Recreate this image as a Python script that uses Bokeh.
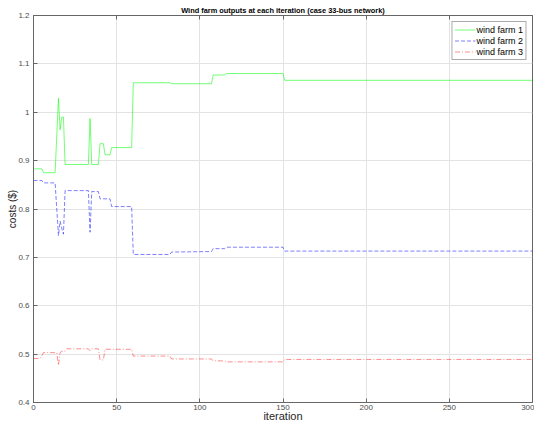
from bokeh.plotting import figure
from bokeh.models import Range1d, LinearAxis, FixedTicker, NumeralTickFormatter, Legend, LegendItem, CustomJSTickFormatter
from bokeh.embed import file_html
from bokeh.resources import INLINE

# ---- data (iteration, value breakpoints) ----
wf1_iter = [0, 5, 6, 13, 15, 16, 17, 18, 19, 33, 34, 35, 39, 40, 42, 43, 46, 47, 59, 60, 82, 83, 107, 108, 115, 116, 150, 151, 300]
wf1_val = [0.883, 0.883, 0.875, 0.875, 1.029, 0.964, 0.990, 0.990, 0.892, 0.892, 0.987, 0.892, 0.892, 0.935, 0.935, 0.912, 0.912,
           0.927, 0.927, 1.061, 1.061, 1.059, 1.059, 1.077, 1.077, 1.080, 1.080, 1.066, 1.066]

wf2_iter = [0, 5, 6, 13, 15, 16, 17, 18, 19, 33, 34, 35, 39, 40, 46, 47, 59, 60, 82, 83, 107, 108, 115, 116, 150, 151, 300]
wf2_val = [0.859, 0.859, 0.854, 0.854, 0.745, 0.775, 0.760, 0.748, 0.838, 0.838, 0.752, 0.836, 0.836, 0.821, 0.821, 0.805, 0.805,
           0.706, 0.706, 0.711, 0.712, 0.718, 0.718, 0.721, 0.721, 0.713, 0.713]

wf3_iter = [0, 4, 6, 14, 15, 16, 17, 19, 20, 33, 34, 35, 39, 40, 42, 43, 59, 60, 82, 83, 107, 108, 115, 116, 150, 151, 300]
wf3_val = [0.491, 0.491, 0.503, 0.503, 0.477, 0.503, 0.506, 0.506, 0.511, 0.511, 0.507, 0.511, 0.511, 0.488, 0.488, 0.510, 0.510,
           0.496, 0.496, 0.490, 0.490, 0.486, 0.486, 0.484, 0.484, 0.489, 0.489]

series_labels = ["wind farm 1", "wind farm 2", "wind farm 3"]
x_ticks = [0, 50, 100, 150, 200, 250, 300]
y_ticks = [0.4, 0.5, 0.6, 0.7, 0.8, 0.9, 1.0, 1.1, 1.2]

FONT = "Liberation Sans"
AX = "#666666"

p = figure(width=534, height=424, output_backend="svg", toolbar_location=None,
           x_range=Range1d(0, 300), y_range=Range1d(0.4, 1.2),
           min_border_left=33, min_border_right=2, min_border_top=15, min_border_bottom=18,
           background_fill_color="white", border_fill_color="white")

p.title.text = "Wind farm outputs at each iteration (case 33-bus network)"
p.title.align = "center"
p.title.text_font = FONT
p.title.text_font_size = "7.4px"
p.title.text_font_style = "bold"
p.title.text_color = "#000000"
p.title.standoff = 2
p.title.offset = 0

p.outline_line_color = AX
p.outline_line_width = 1

for ax in (p.xaxis[0], p.yaxis[0]):
    ax.major_tick_in = 4
    ax.major_tick_out = 0
    ax.minor_tick_in = 0
    ax.minor_tick_out = 0
    ax.axis_line_color = AX
    ax.major_tick_line_color = AX
    ax.major_label_text_font = FONT
    ax.major_label_text_font_size = "8px"
    ax.major_label_text_color = "#4d4d4d"
    ax.axis_label_text_font = FONT
    ax.axis_label_text_font_style = "normal"
    ax.axis_label_text_color = "#262626"

p.xaxis[0].ticker = FixedTicker(ticks=x_ticks)
p.yaxis[0].ticker = FixedTicker(ticks=y_ticks)
p.yaxis[0].formatter = NumeralTickFormatter(format="0.[0]")
p.xaxis[0].axis_label = "iteration"
p.xaxis[0].axis_label_text_font_size = "11px"
p.xaxis[0].major_label_standoff = 2
p.xaxis[0].axis_label_standoff = -3
p.yaxis[0].axis_label = "costs ($)"
p.yaxis[0].axis_label_text_font_size = "10px"
p.yaxis[0].major_label_standoff = 4
p.yaxis[0].axis_label_standoff = -3

# mirrored axis (ticks only) on top
blank = CustomJSTickFormatter(code="return ''")
top = LinearAxis(ticker=FixedTicker(ticks=x_ticks), formatter=blank, major_label_text_font_size="1px",
                 major_label_standoff=0, major_tick_in=4, major_tick_out=0,
                 minor_tick_in=0, minor_tick_out=0, axis_line_color=AX, major_tick_line_color=AX)
p.add_layout(top, "above")

p.xgrid.ticker = FixedTicker(ticks=x_ticks)
p.ygrid.ticker = FixedTicker(ticks=y_ticks)
p.xgrid.grid_line_color = "#e3e3e3"
p.ygrid.grid_line_color = "#e3e3e3"

r1 = p.line(wf1_iter, wf1_val, line_color="#00ff00", line_alpha=0.55, line_width=1)
r2 = p.line(wf2_iter, wf2_val, line_color="#0000ff", line_alpha=0.5, line_width=1, line_dash="4 2")
r3 = p.line(wf3_iter, wf3_val, line_color="#ff0000", line_alpha=0.45, line_width=1, line_dash="5 2 1 2")

legend = Legend(items=[LegendItem(label=series_labels[0], renderers=[r1]),
                       LegendItem(label=series_labels[1], renderers=[r2]),
                       LegendItem(label=series_labels[2], renderers=[r3])],
                location="top_right", margin=6, padding=2, spacing=0,
                label_text_font=FONT, label_text_font_size="9px", label_text_color="#000000",
                label_height=11, glyph_height=11, glyph_width=21, label_standoff=1,
                border_line_color="#555555", border_line_width=1,
                background_fill_color="white", background_fill_alpha=1)
p.add_layout(legend, "center")

open("out.html", "w").write(file_html(p, INLINE))
